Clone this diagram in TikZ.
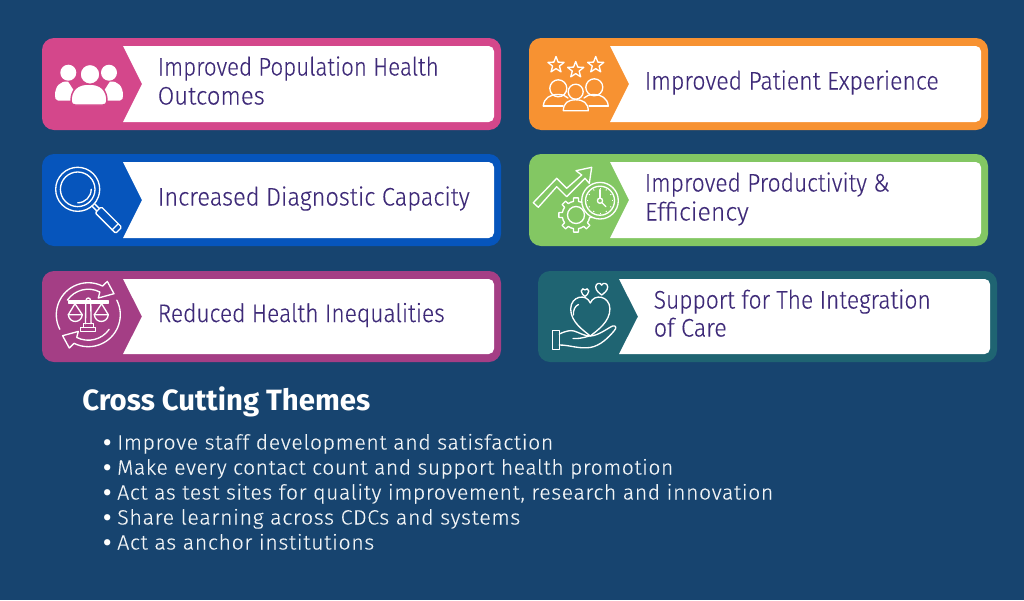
\documentclass[tikz,border=0pt]{standalone}
\usepackage{fontspec}
\setmainfont{Fira Sans Light}
\newfontfamily\cardfont[FakeBold=0.25]{Fira Sans Light}
\newfontfamily\listfont[LetterSpace=3,FakeBold=0.25]{Fira Sans Light}
\newfontfamily\headfont{Fira Sans}
\definecolor{bg}{HTML}{17446F}
\definecolor{cpink}{HTML}{D4478B}
\definecolor{cblue}{HTML}{0655BC}
\definecolor{cpurple}{HTML}{A43E85}
\definecolor{corange}{HTML}{F79232}
\definecolor{cgreen}{HTML}{83C763}
\definecolor{cteal}{HTML}{1F6472}
\definecolor{ink}{HTML}{3E2A78}
\tikzset{
  cardtext/.style={anchor=base west,inner sep=0pt,text=ink,font=\cardfont\fontsize{19}{23}\selectfont},
  listtext/.style={anchor=base west,inner sep=0pt,text=white!94!bg,font=\listfont\fontsize{15.5}{18}\selectfont},
  bullettext/.style={anchor=base west,inner sep=0pt,text=white,font=\headfont\bfseries\fontsize{17}{18}\selectfont},
  headtext/.style={anchor=base west,inner sep=0pt,text=white,font=\headfont\bfseries\fontsize{22}{25}\selectfont},
  ic/.style={draw=white,line width=1pt,line cap=round,line join=round},
}
\newcommand{\fitw}[2]{\resizebox{\dimexpr#1pt*3/4\relax}{\height}{#2}}
\newcommand{\card}[4]{%
  \fill[#4,rounded corners=9pt] (#1,#2) rectangle ({#1+459},{#3});
  \fill[white] ({#1+81},{#2+8}) -- ({#1+100},{(#2+#3)/2}) -- ({#1+81},{#3-8})
     [rounded corners=4pt] -- ({#1+452},{#3-8}) -- ({#1+452},{#2+8}) [sharp corners] -- cycle;
}
\newcommand{\hrtpath}{(0,1) .. controls (-0.35,0.72) and (-1,0.3) .. (-1,-0.35) .. controls (-1,-1.0) and (-0.2,-1.15) .. (0,-0.65) .. controls (0.2,-1.15) and (1,-1.0) .. (1,-0.35) .. controls (1,0.3) and (0.35,0.72) .. (0,1) -- cycle}
\newcommand{\starpath}{(-90:8.5) -- (-54:3.6) -- (-18:8.5) -- (18:3.6) -- (54:8.5) -- (90:3.6) -- (126:8.5) -- (162:3.6) -- (198:8.5) -- (234:3.6) -- cycle}
\begin{document}
\begin{tikzpicture}[x=0.75pt,y=-0.75pt]
\useasboundingbox (0,0) rectangle (1024,600);
\fill[bg] (0,0) rectangle (1024,600);
\card{42}{38}{130}{cpink}
\card{42}{154}{246}{cblue}
\card{42}{271}{362}{cpurple}
\card{529}{38}{130}{corange}
\card{529}{154}{246}{cgreen}
\card{538}{271}{362}{cteal}

% people (pink)
\fill[white] (68.3,72.7) circle[radius=8] (109,72.7) circle[radius=8];
\fill[white] (55,95.7) .. controls (55,86) and (60,81) .. (68,81.5) -- (80,100) -- (80,100.5) -- (58,100.5) .. controls (55.5,100.5) and (55,98) .. (55,95.7) -- cycle;
\fill[white] (123,95.7) .. controls (123,86) and (118,81) .. (110,81.5) -- (98,100) -- (98,100.5) -- (120,100.5) .. controls (122.5,100.5) and (123,98) .. (123,95.7) -- cycle;
\filldraw[fill=white,draw=cpink,line width=1.1pt] (71,101) .. controls (71,90) and (77,84) .. (89,84) .. controls (101,84) and (107,90) .. (107,101) .. controls (107,104) and (105,105) .. (103,105) -- (75,105) .. controls (73,105) and (71,104) .. (71,101) -- cycle;
\filldraw[fill=white,draw=cpink,line width=1.1pt] (90,74.3) circle[radius=10];

% magnifier (blue)
\begin{scope}[shift={(77.7,189.3)},rotate=-45,ic]
\draw (0,0) circle[radius=22];
\draw (0,0) circle[radius=17.3];
\draw (-45:13.5) arc[start angle=-45,end angle=45,radius=13.5];
\draw (22,-1.8) -- (29,-1.8) (22,1.8) -- (29,1.8);
\draw[rounded corners=1pt] (29,-4.3) rectangle (58,4.3);
\draw (53,-4.3) -- (53,4.3);
\end{scope}

% scales (purple)
\begin{scope}[shift={(88.3,314.7)}]
\foreach \r in {0,180}{
\begin{scope}[rotate=\r,ic]
\draw (153:32) arc[start angle=153,end angle=296.5,radius=32] -- (19,-33.3) -- (25.7,-21) -- (10,-16.7) -- (297:25.5) arc[start angle=297,end angle=215,radius=25.5];
\end{scope}}
\begin{scope}[ic]
\draw (-20,-13.8) rectangle (20,-11.6);
\draw (0,-14.5) circle[radius=2.2];
\draw (-2.5,-11) -- (-2.8,9) (2.5,-11) -- (2.8,9);
\draw (-5,9) rectangle (5,13);
\draw (-7.5,13) rectangle (7.5,17);
\foreach \s in {-1,1}{
\draw (\s*13.3,-11) -- (\s*20,0) -- (\s*6,0) -- cycle;
\draw (\s*20,0) .. controls (\s*19,9) and (\s*7,9) .. (\s*6,0);
}
\end{scope}
\end{scope}

% stars and people (orange)
\foreach \px/\py in {556/65,575.7/70,595.7/65}{
\draw[ic] [shift={(\px,\py)}] \starpath;
}
\draw[ic] (558.3,88.3) circle[radius=8.5] (594.3,87.3) circle[radius=8.5];
\draw[ic] (543.3,106) .. controls (544,98) and (550,94.5) .. (558,94.5) .. controls (563,94.5) and (566,96) .. (568,98);
\draw[ic] (543.3,106) -- (563,106);
\draw[ic] (608.3,106) .. controls (607.5,98) and (601,94.5) .. (594,94.5) .. controls (589,94.5) and (586,96) .. (584,98);
\draw[ic] (608.3,106) -- (589,106);
\filldraw[ic,fill=corange] (575.7,91.7) circle[radius=7.5];
\filldraw[ic,fill=corange] (563.3,110.7) .. controls (563.5,103) and (568,99.8) .. (575.7,99.8) .. controls (583.5,99.8) and (588,103) .. (588.3,110.7) -- cycle;

% chart, gear and clock (green)
\draw[ic] (533.3,202.7) -- (556.7,178.3) -- (566.7,188.3) -- (581.7,175) -- (576,170.7) -- (591.7,167.3) -- (589.3,183.3) -- (585,178.3) -- (566.7,196.7) -- (556.7,186.7) -- (538.3,207.3) -- cycle;
\begin{scope}[shift={(576,215)},ic]
\foreach \a in {0,45,...,315}{
\draw (\a-22.5:13.8) -- (\a-11:13.8) -- (\a-8:17.3) -- (\a+8:17.3) -- (\a+11:13.8) -- (\a+22.5:13.8);
}
\draw (0,0) circle[radius=8.5];
\end{scope}
\begin{scope}[shift={(600,200.7)}]
\filldraw[ic,fill=cgreen] (0,0) circle[radius=18.3];
\draw[ic] (0,0) circle[radius=14.5];
\draw[ic] (0,0) circle[radius=2.6];
\draw[ic] (0,-2.6) -- (0,-11);
\draw[ic] (1.9,1.9) -- (6,6);
\foreach \a in {0,30,...,330}{
\draw[white,line width=0.7pt] (\a:11.8) -- (\a:13);
}
\end{scope}

% heart and hand (teal)
\begin{scope}[ic]
\draw [shift={(590.3,316)},xscale=19.6,yscale=20] \hrtpath;
\draw (573.5,315) .. controls (573,310) and (575,306) .. (578.5,304.5);
\draw [shift={(585,292.5)},xscale=3.8,yscale=4] \hrtpath;
\draw [shift={(601.7,289)},xscale=6,yscale=6] \hrtpath;
\draw (552.7,330.5) rectangle (559.3,349.3);
\draw (559.3,334) .. controls (566,331) and (570,330) .. (574,331) .. controls (578,332) and (584,336) .. (590,336) .. controls (598,336) and (608,328) .. (612.5,326) .. controls (616,325) and (617,328) .. (614,331) .. controls (608,338) and (600,346) .. (590,347.5) .. controls (578,349) and (570,345) .. (559.3,345);
\draw (573,338.5) .. controls (578,339) and (585,337.5) .. (589,336);
\end{scope}

% texts
\node[cardtext] (t1a) at (157.5,75.5) {\fitw{281}{Improved Population Health}};
\node[cardtext] (t1b) at (157.5,104.5) {\fitw{107}{Outcomes}};
\node[cardtext] (t2) at (157.5,205.5) {\fitw{312}{Increased Diagnostic Capacity}};
\node[cardtext] (t3) at (157.5,322) {\fitw{287}{Reduced Health Inequalities}};
\node[cardtext] (t4) at (644.5,89.5) {\fitw{294}{Improved Patient Experience}};
\node[cardtext] (t5a) at (644.5,191.5) {\fitw{245}{Improved Productivity \&}};
\node[cardtext] (t5b) at (644.5,220.5) {\fitw{104}{Efficiency}};
\node[cardtext] (t6a) at (653.5,308.5) {\fitw{277}{Support for The Integration}};
\node[cardtext] (t6b) at (653.5,336.5) {\fitw{73}{of Care}};
\node[headtext] (h) at (82,410) {\fitw{288}{Cross Cutting Themes}};
\node[bullettext] (b1) at (103,450) {•};
\node[bullettext] (b2) at (103,475) {•};
\node[bullettext] (b3) at (103,500) {•};
\node[bullettext] (b4) at (103,525) {•};
\node[bullettext] (b5) at (103,550) {•};
\node[listtext] (l1) at (117,449.5) {\fitw{436}{Improve staff development and satisfaction}};
\node[listtext] (l2) at (117,474.5) {\fitw{556}{Make every contact count and support health promotion}};
\node[listtext] (l3) at (117,499.5) {\fitw{656}{Act as test sites for quality improvement, research and innovation}};
\node[listtext] (l4) at (117,524.5) {\fitw{403}{Share learning across CDCs and systems}};
\node[listtext] (l5) at (117,549.5) {\fitw{257}{Act as anchor institutions}};
\end{tikzpicture}
\end{document}
